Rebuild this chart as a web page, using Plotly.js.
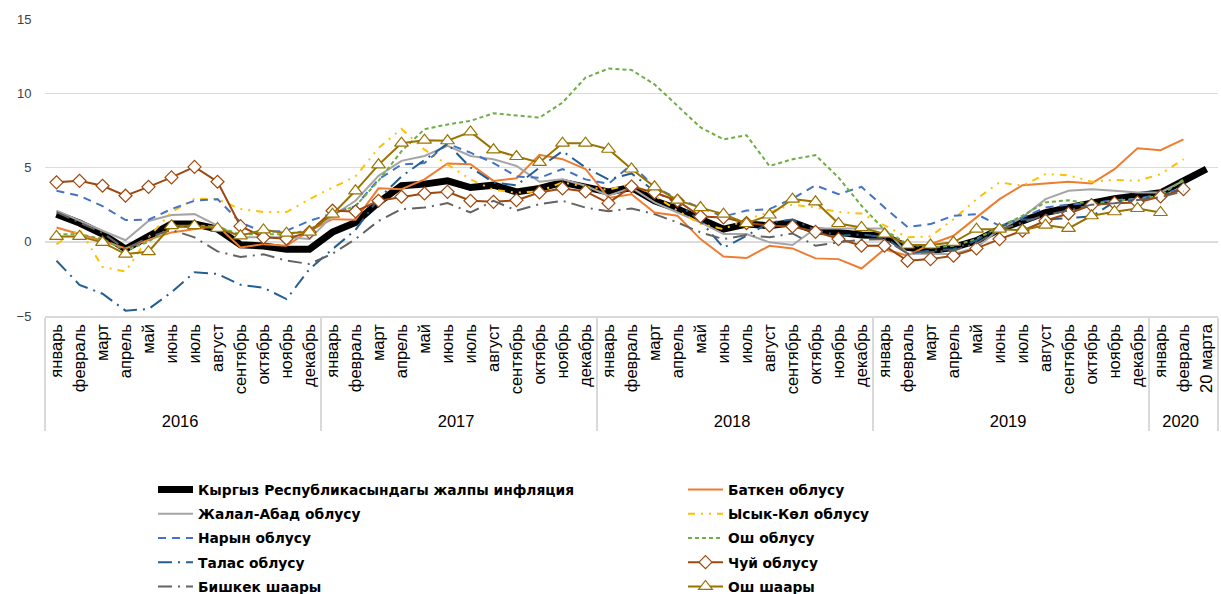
<!DOCTYPE html>
<html>
<head>
<meta charset="utf-8">
<script src="https://cdn.plot.ly/plotly-3.0.1.min.js"></script>
<style>html,body{margin:0;padding:0;background:#fff;}#chart{width:1221px;height:594px;}</style>
</head>
<body>
<div id="chart"></div>
<script>
// ---- Categories ----
const years = ['2016', '2017', '2018', '2019', '2020'];
const monthsFull = ['январь','февраль','март','апрель','май','июнь','июль','август','сентябрь','октябрь','ноябрь','декабрь'];
const months2020 = ['январь','февраль','20 марта'];

// ---- Series (annual inflation, %) ----
const overall = [1.86,1.26,0.52,-0.49,0.36,1.2,1.2,0.85,-0.2,-0.28,-0.5,-0.5,
  0.65,1.3,2.65,3.77,3.88,4.1,3.65,3.81,3.36,3.59,4.0,3.65,
  3.35,3.65,2.76,2.2,1.52,0.85,1.19,1.08,1.3,0.74,0.63,0.45,
  0.4,-0.38,-0.6,-0.38,0.07,0.85,1.4,1.97,2.3,2.65,2.9,3.1,
  3.3,4.1,4.9];
const batken = [0.96,0.52,0.07,-0.45,0.13,0.63,0.85,1.08,-0.38,-0.16,-0.27,0.74,
  1.52,1.48,3.6,3.54,4.2,5.27,5.22,4.1,4.28,5.85,5.56,4.9,
  2.95,3.2,1.97,1.75,0.18,-0.99,-1.1,-0.27,-0.45,-1.12,-1.17,-1.8,
  -0.5,-0.94,-0.16,0.4,1.64,2.87,3.81,3.95,4.04,3.92,4.89,6.3,
  6.17,6.9,null];
const jalalAbad = [2.1,1.4,0.74,0.1,1.4,1.8,1.86,1.08,0.3,0.3,0.3,0.18,
  1.75,2.76,4.44,5.45,5.78,6.46,5.78,5.56,5.1,4.04,4.2,3.77,
  3.1,3.65,2.65,1.97,1.3,0.52,0.52,-0.04,-0.22,0.9,0.9,0.9,
  0.9,-0.8,-0.8,-0.83,-0.4,0.85,1.64,2.87,3.43,3.54,3.43,3.32,
  3.32,4.1,null];
const issykKul = [-0.16,0.85,-1.7,-2.0,0.3,2.0,2.9,2.87,2.2,2.0,2.0,2.87,
  3.65,4.4,6.3,7.6,6.2,5.2,4.2,3.5,3.3,3.4,4.0,3.7,
  3.5,3.9,3.1,2.1,1.2,0.85,1.5,2.0,2.5,2.3,2.0,1.9,
  1.08,0.3,0.36,1.52,2.87,4.0,3.77,4.55,4.48,4.04,4.17,4.1,
  4.55,5.56,null];
const naryn = [3.43,3.1,2.4,1.46,1.48,2.2,2.76,2.87,1.3,0.65,0.74,1.41,
  1.9,2.4,4.2,5.2,5.3,6.6,6.0,5.3,4.4,4.3,4.9,4.2,
  3.9,5.2,3.7,2.9,2.3,1.7,2.1,2.2,2.9,3.8,3.2,3.7,
  2.3,1.0,1.19,1.75,1.86,1.08,1.64,2.3,2.5,2.6,2.8,2.9,
  3.2,3.6,null];
const oshOblast = [0.5,0.5,0.2,-0.6,0.0,1.0,1.1,1.0,0.5,0.5,0.5,0.8,
  1.86,2.4,4.1,6.1,7.58,7.9,8.14,8.65,8.52,8.36,9.37,11.05,
  11.66,11.57,10.6,9.15,7.7,6.9,7.17,5.1,5.56,5.83,4.33,2.42,
  0.8,-0.16,-0.38,-0.27,0.18,1.0,1.75,2.65,2.8,2.53,2.76,2.87,
  3.1,4.2,null];
const talas = [-1.28,-2.9,-3.5,-4.64,-4.53,-3.4,-2.06,-2.17,-2.9,-3.1,-3.86,-1.84,
  -0.5,0.8,2.9,4.4,5.5,6.6,5.0,4.0,3.8,5.0,6.1,5.0,
  4.2,4.6,3.4,2.6,1.4,-0.4,0.4,1.3,1.5,0.8,0.4,0.5,
  0.3,-0.8,-0.6,-0.5,0.1,1.0,1.5,1.5,1.6,1.7,2.7,2.8,
  3.1,3.6,null];
const chuy = [4.0,4.1,3.77,3.1,3.7,4.33,5.04,4.04,1.05,0.3,0.2,0.65,
  2.09,2.04,2.76,3.03,3.25,3.36,2.76,2.69,2.8,3.32,3.59,3.39,
  2.6,3.72,3.32,2.76,1.7,1.64,1.26,1.08,1.03,0.67,0.18,-0.27,
  -0.27,-1.28,-1.17,-0.94,-0.45,0.18,0.74,1.41,1.9,2.47,2.6,2.65,
  3.05,3.54,null];
const bishkek = [2.0,1.3,0.6,-0.5,0.3,0.8,0.3,-0.65,-1.03,-0.85,-1.27,-1.5,
  -0.8,0.18,1.4,2.2,2.3,2.6,1.97,2.76,2.1,2.53,2.76,2.3,
  2.05,2.24,1.86,1.3,0.63,0.18,0.45,0.3,0.56,-0.27,-0.04,0.13,
  0.18,-0.8,-0.7,-0.6,-0.1,0.8,1.3,1.8,2.1,2.5,2.6,2.8,
  3.0,3.4,null];
const oshCity = [0.36,0.36,-0.04,-0.83,-0.67,1.08,1.08,0.9,0.4,0.8,0.58,0.65,
  1.86,3.43,5.18,6.64,6.84,6.8,7.4,6.19,5.74,5.34,6.64,6.64,
  6.23,4.9,3.7,2.8,2.3,1.86,1.23,1.8,2.87,2.69,1.23,0.96,
  0.52,-0.22,-0.22,-0.04,0.85,0.85,0.78,1.12,0.9,1.75,2.02,2.24,
  1.97,null,null];

// ---- Build multicategory x ----
const xYear = [], xMonth = [];
years.forEach(y => {
  const ms = (y === '2020') ? months2020 : monthsFull;
  ms.forEach(m => { xYear.push(y); xMonth.push(m); });
});
const X = [xYear, xMonth];

function tr(name, y, color, width, dash, legend, extra) {
  return Object.assign({
    type: 'scatter', mode: 'lines', name: name, x: X, y: y,
    line: {color: color, width: width, dash: dash},
    legend: legend, legendgroup: name,
    connectgaps: false, hoverinfo: 'skip'
  }, extra || {});
}

const data = [
  tr('Кыргыз Республикасындагы жалпы инфляция', overall, '#000000', 7, 'solid', 'legend'),
  tr('Баткен облусу', batken, '#ED7D31', 2, 'solid', 'legend2'),
  tr('Жалал-Абад облусу', jalalAbad, '#A5A5A5', 2, 'solid', 'legend'),
  tr('Ысык-Көл облусу', issykKul, '#FFC000', 2, '7px,6px,2px,6px,2px,6px', 'legend2'),
  tr('Нарын облусу', naryn, '#4472C4', 2, '8px,6px', 'legend'),
  tr('Ош облусу', oshOblast, '#70AD47', 2, '4px,3px', 'legend2'),
  tr('Талас облусу', talas, '#255E91', 2, '14px,6px,2px,6px', 'legend'),
  tr('Чуй облусу', chuy, '#9E480E', 2, 'solid', 'legend2', {mode: 'lines+markers',
     marker: {symbol: 'diamond', size: 10, color: '#ffffff', line: {color: '#9E480E', width: 1.2}}}),
  tr('Бишкек шаары', bishkek, '#636363', 2, '14px,6px,2px,6px', 'legend'),
  tr('Ош шаары', oshCity, '#997300', 2, 'solid', 'legend2', {mode: 'lines+markers',
     marker: {symbol: 'triangle-up', size: 12, color: '#ffffff', line: {color: '#997300', width: 1.2}}})
];

const legendFont = {family: 'DejaVu Sans, sans-serif', size: 13.8, weight: 'bold', color: '#000'};
function legendAt(xpx) {
  return {
    orientation: 'v', xref: 'container', yref: 'container',
    x: xpx / 1221, xanchor: 'left', y: (594 - 474) / 594, yanchor: 'top',
    itemwidth: 35, tracegroupgap: 3.3, font: legendFont,
    bgcolor: 'rgba(0,0,0,0)', traceorder: 'grouped'
  };
}

const layout = {
  width: 1221, height: 594,
  margin: {l: 45, r: 3, t: 19, b: 278, autoexpand: false},
  paper_bgcolor: '#ffffff', plot_bgcolor: '#ffffff',
  font: {family: 'Liberation Sans, Arial, sans-serif', color: '#000'},
  showlegend: true,
  legend: legendAt(153),
  legend2: legendAt(683),
  xaxis: {
    type: 'multicategory', automargin: false,
    range: [-0.5, 50.5], autorange: false,
    showline: true, linecolor: '#d9d9d9', linewidth: 1.5,
    showgrid: false, zeroline: false,
    showdividers: true, dividercolor: '#d9d9d9', dividerwidth: 1.5,
    tickangle: -90, ticks: '',
    tickfont: {family: 'Liberation Sans, Arial, sans-serif', size: 16.5, color: '#000'}
  },
  yaxis: {
    range: [-5, 15], dtick: 5, tick0: 0, automargin: false,
    showgrid: true, gridcolor: '#dcdcdc', gridwidth: 1.5,
    zeroline: false, showline: false,
    ticks: 'outside', ticklen: 10, tickcolor: 'rgba(0,0,0,0)',
    tickfont: {family: 'Liberation Sans, Arial, sans-serif', size: 13, color: '#404040'}
  }
};

Plotly.newPlot('chart', data, layout, {displayModeBar: false, staticPlot: true});
</script>
</body>
</html>
